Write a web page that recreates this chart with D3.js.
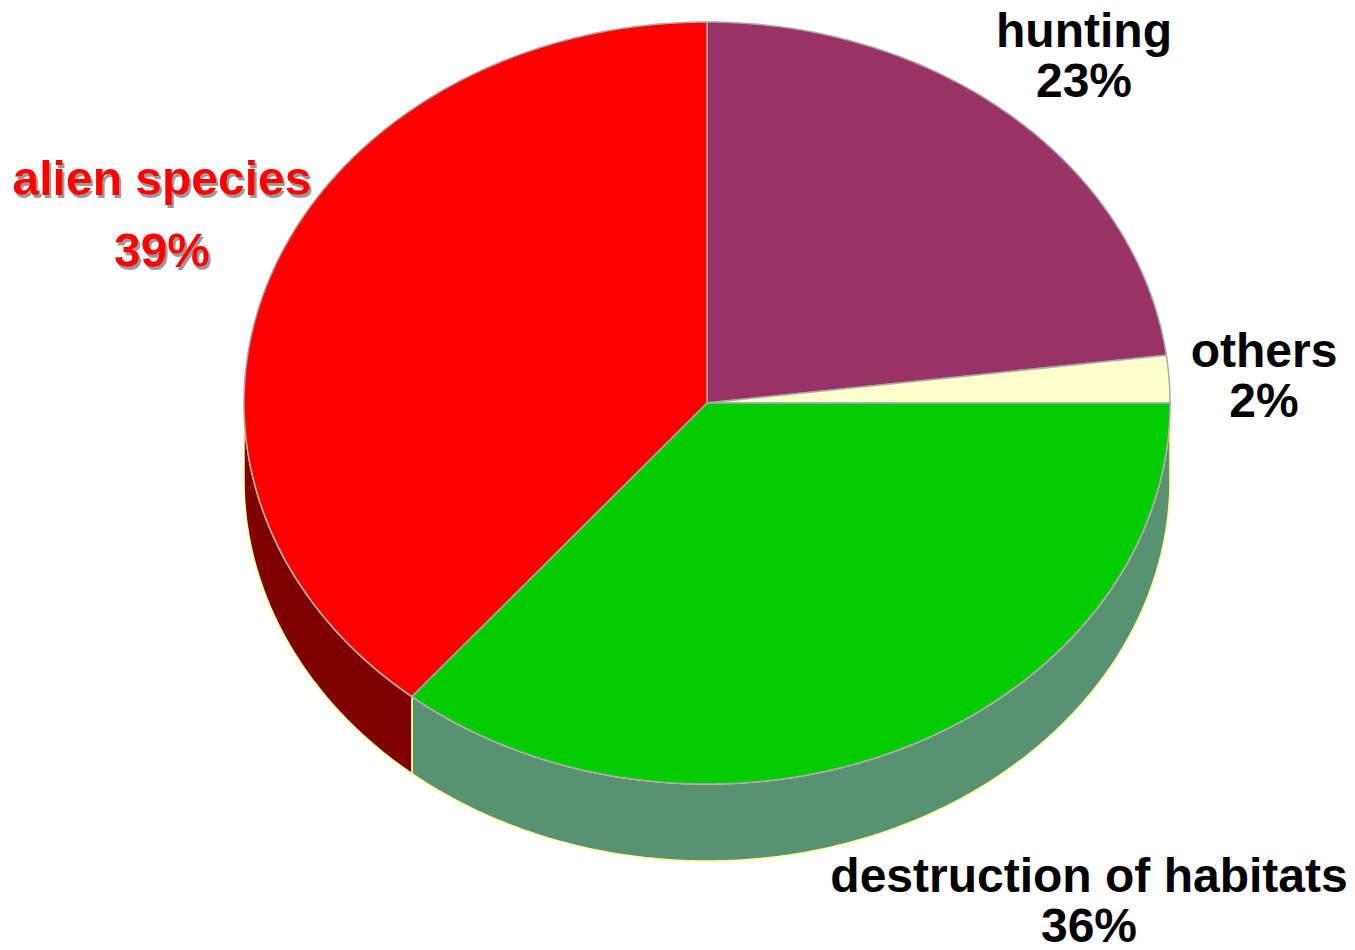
<!DOCTYPE html>
<meta charset="utf-8">
<style>
body { margin: 0; background: #fff; }
svg { display: block; }
text { font-family: "Liberation Sans", Arial, sans-serif; font-weight: bold; }
</style>
<script src="https://d3js.org/d3.v7.min.js"></script>
<body>
<svg id="chart" width="1355" height="950"></svg>
<script>
// data, clockwise from 12 o'clock
var categories = ["hunting", "others", "destruction of habitats", "alien species"];
var values = [23, 2, 36, 39];
var topColors = ["#993366", "#ffffcc", "#00cc00", "#ff0000"];
var sideColors = ["#5c1f3d", "#99997a", "#589270", "#800000"];
var labelColors = ["#000", "#000", "#000", "#ff0000"];

var width = 1355, height = 950;
var cx = 707, cy = 403, rx = 463, ry = 381, depth = 77;

var svg = d3.select("#chart");

// soft grey shadow for the red label
var shadow = svg.append("defs").append("filter")
    .attr("id", "shadow")
    .attr("x", "-10%").attr("y", "-20%")
    .attr("width", "120%").attr("height", "140%");
shadow.append("feDropShadow")
    .attr("dx", 2).attr("dy", 3)
    .attr("stdDeviation", 0.6)
    .attr("flood-color", "#999999")
    .attr("flood-opacity", 1);

var pie = d3.pie().sort(null).value(function(d) { return d; });
var arcs = pie(values);

function pt(a, dy) {
  return [cx + rx * Math.sin(a), cy - ry * Math.cos(a) + (dy || 0)];
}

// sampled elliptical arc from a0 to a1
function arcPoints(a0, a1, dy) {
  var n = Math.max(2, Math.ceil(Math.abs(a1 - a0) / 0.01));
  var pts = [];
  for (var i = 0; i <= n; i++) pts.push(pt(a0 + (a1 - a0) * i / n, dy));
  return pts;
}

var line = d3.line();

function topPath(d) {
  var pts = [[cx, cy]].concat(arcPoints(d.startAngle, d.endAngle));
  return line(pts) + "Z";
}

function sidePath(d) {
  var a0 = Math.max(d.startAngle, Math.PI / 2);
  var a1 = Math.min(d.endAngle, 3 * Math.PI / 2);
  if (a1 <= a0) return null;
  var pts = arcPoints(a0, a1).concat(arcPoints(a1, a0, depth));
  return line(pts) + "Z";
}

// side walls
var sides = svg.append("g").attr("class", "sides");
arcs.forEach(function(d, i) {
  var p = sidePath(d);
  if (!p) return;
  sides.append("path")
    .attr("d", p)
    .attr("fill", sideColors[i])
    .attr("stroke", "#ffff99")
    .attr("stroke-width", 1.5)
    .attr("stroke-linejoin", "round");
});

// slice top faces
svg.append("g").attr("class", "tops")
  .selectAll("path")
  .data(arcs)
  .enter().append("path")
    .attr("d", topPath)
    .attr("fill", function(d, i) { return topColors[i]; })
    .attr("stroke", "#aaaaaa")
    .attr("stroke-width", 1.5)
    .attr("stroke-linejoin", "round");

// labels
var labelPos = [
  { x: 1084, y: 47, gap: 50 },
  { x: 1264, y: 367, gap: 50 },
  { x: 1089, y: 892, gap: 50 },
  { x: 162, y: 195, gap: 72 }
];

var labels = svg.append("g").attr("class", "labels");
arcs.forEach(function(d, i) {
  var p = labelPos[i];
  var lines = [categories[i], values[i] + "%"];
  lines.forEach(function(t, j) {
    var txt = labels.append("text")
      .attr("x", p.x).attr("y", p.y + j * p.gap)
      .attr("text-anchor", "middle")
      .attr("font-size", 48)
      .attr("fill", labelColors[i])
      .text(t);
    if (i === 3) txt.attr("filter", "url(#shadow)");
  });
});
</script>
</body>
